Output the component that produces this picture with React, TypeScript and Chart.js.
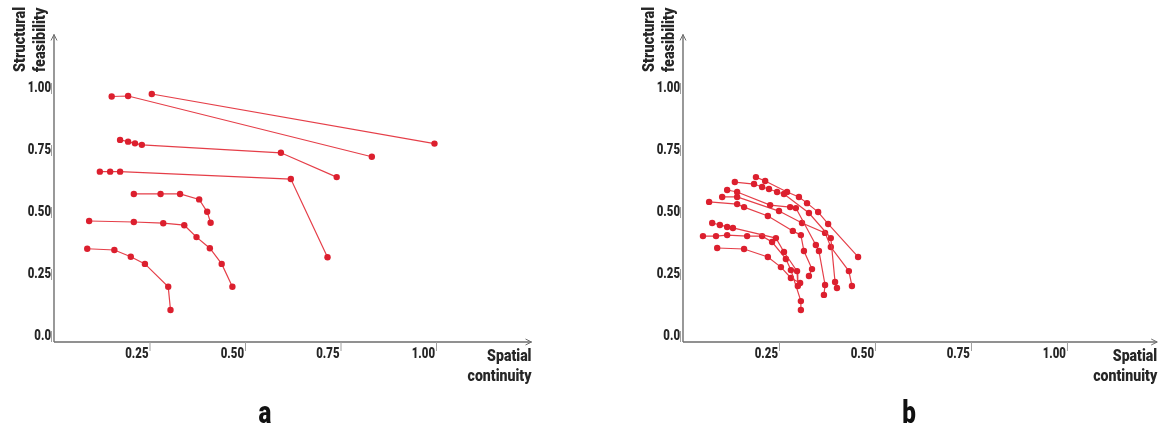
import React, { useEffect, useRef } from "react";
import { Chart, registerables } from "chart.js";

Chart.register(...registerables);

// ---- tick labels & titles ----
const X_TICKS = [0.25, 0.5, 0.75, 1.0];
const X_TICK_LABELS = ["0.25", "0.50", "0.75", "1.00"];
const Y_TICKS = [0, 0.25, 0.5, 0.75, 1.0];
const Y_TICK_LABELS = ["0.0", "0.25", "0.50", "0.75", "1.00"];
const X_TITLE = ["Spatial", "continuity"];
const Y_TITLE = ["Structural", "feasibility"];
const PANEL_LABELS = ["a", "b"];

// ---- panel a series: [spatial continuity, structural feasibility] ----
const a1 = [[0.256, 1.0], [0.996, 0.8]];
const a2 = [[0.151, 0.99], [0.194, 0.992], [0.832, 0.747]];
const a3 = [[0.173, 0.815], [0.194, 0.808], [0.212, 0.801], [0.23, 0.795], [0.594, 0.763], [0.74, 0.665]];
const a4 = [[0.12, 0.687], [0.147, 0.687], [0.173, 0.687], [0.62, 0.657], [0.716, 0.342]];
const a5 = [[0.209, 0.597], [0.279, 0.597], [0.33, 0.597], [0.38, 0.575], [0.401, 0.525], [0.41, 0.481]];
const a6 = [[0.092, 0.488], [0.209, 0.484], [0.286, 0.479], [0.341, 0.471], [0.373, 0.423], [0.408, 0.378], [0.439, 0.315], [0.467, 0.223]];
const a7 = [[0.087, 0.376], [0.158, 0.371], [0.201, 0.344], [0.238, 0.315], [0.299, 0.223], [0.305, 0.129]];

// ---- panel b series ----
const b1 = [[0.19, 0.665], [0.214, 0.649], [0.271, 0.605], [0.302, 0.585], [0.323, 0.56], [0.352, 0.524], [0.378, 0.476], [0.456, 0.343]];
const b2 = [[0.135, 0.645], [0.185, 0.637], [0.206, 0.625], [0.224, 0.617], [0.245, 0.605], [0.263, 0.597], [0.328, 0.52], [0.385, 0.419], [0.396, 0.242], [0.401, 0.218]];
const b3 = [[0.115, 0.613], [0.141, 0.605], [0.227, 0.552], [0.279, 0.544], [0.294, 0.54], [0.346, 0.391], [0.354, 0.367], [0.37, 0.23], [0.367, 0.19]];
const b4 = [[0.102, 0.585], [0.141, 0.585], [0.25, 0.528], [0.31, 0.48], [0.37, 0.44], [0.385, 0.383], [0.432, 0.286], [0.44, 0.226]];
const b5 = [[0.068, 0.565], [0.141, 0.556], [0.159, 0.544], [0.221, 0.508], [0.286, 0.448], [0.307, 0.431], [0.315, 0.367], [0.336, 0.294], [0.328, 0.266]];
const b6 = [[0.076, 0.48], [0.096, 0.472], [0.115, 0.464], [0.13, 0.46], [0.242, 0.419], [0.263, 0.363], [0.297, 0.286], [0.299, 0.226]];
const b7 = [[0.052, 0.427], [0.086, 0.427], [0.115, 0.431], [0.167, 0.427], [0.206, 0.427], [0.232, 0.403], [0.268, 0.335], [0.281, 0.29], [0.307, 0.165], [0.307, 0.129]];
const b8 = [[0.089, 0.379], [0.159, 0.375], [0.221, 0.343], [0.255, 0.302], [0.281, 0.258], [0.305, 0.238]];

const SERIES_A = [a1, a2, a3, a4, a5, a6, a7];
const SERIES_B = [b1, b2, b3, b4, b5, b6, b7, b8];

const FONT = "Roboto, 'DejaVu Sans Condensed', sans-serif";
const LINE_COLOR = "rgba(228, 52, 62, 0.95)";
const POINT_COLOR = "#dc1f2e";
const AXIS_COLOR = "#6e6e6e";
const TEXT_COLOR = "#262626";

// draw horizontally condensed text (the reference uses a condensed face)
function condText(
  ctx: CanvasRenderingContext2D,
  text: string,
  x: number,
  y: number,
  align: CanvasTextAlign,
  sx: number,
  rotate = 0
) {
  ctx.save();
  ctx.translate(x, y);
  if (rotate) ctx.rotate(rotate);
  ctx.scale(sx, 1);
  ctx.textAlign = align;
  ctx.fillText(text, 0, 0);
  ctx.restore();
}

function makeAxesPlugin(panelLabel: string, labelX: number) {
  return {
    id: "customAxes",
    beforeDatasetsDraw(chart: any) {
      const ctx = chart.ctx as CanvasRenderingContext2D;
      const xs = chart.scales.x;
      const ys = chart.scales.y;
      const ox = xs.getPixelForValue(0);
      const oy = ys.getPixelForValue(0);
      const right = chart.chartArea.right;
      const top = chart.chartArea.top;
      ctx.save();
      // axis lines
      ctx.strokeStyle = AXIS_COLOR;
      ctx.lineWidth = 1.4;
      ctx.beginPath();
      ctx.moveTo(ox, oy);
      ctx.lineTo(right, oy);
      ctx.moveTo(ox, oy);
      ctx.lineTo(ox, top);
      ctx.stroke();
      ctx.lineWidth = 1;
      ctx.beginPath();
      ctx.moveTo(right - 6, oy - 3);
      ctx.lineTo(right, oy);
      ctx.lineTo(right - 6, oy + 3);
      ctx.moveTo(ox - 3, top + 6);
      ctx.lineTo(ox, top);
      ctx.lineTo(ox + 3, top + 6);
      ctx.stroke();

      // x ticks
      ctx.fillStyle = TEXT_COLOR;
      ctx.font = `900 15px ${FONT}`;
      ctx.textBaseline = "middle";
      X_TICKS.forEach((t, i) => {
        const px = xs.getPixelForValue(t);
        ctx.strokeStyle = "#a0a0a0";
        ctx.lineWidth = 1;
        ctx.beginPath();
        ctx.moveTo(px + 0.5, oy);
        ctx.lineTo(px + 0.5, oy + 9);
        ctx.stroke();
        condText(ctx, X_TICK_LABELS[i], px - 1, oy + 12, "right", 0.76);
      });
      // y ticks
      Y_TICKS.forEach((t, i) => {
        const py = ys.getPixelForValue(t);
        ctx.strokeStyle = "#a0a0a0";
        ctx.lineWidth = 1;
        ctx.beginPath();
        ctx.moveTo(ox - 2.5, py - 11);
        ctx.lineTo(ox - 2.5, py);
        ctx.stroke();
        condText(ctx, Y_TICK_LABELS[i], ox - 3, py - 5.5, "right", 0.76);
      });

      // x title
      ctx.font = `900 17px ${FONT}`;
      ctx.textBaseline = "alphabetic";
      condText(ctx, X_TITLE[0], right, oy + 19, "right", 0.83);
      condText(ctx, X_TITLE[1], right, oy + 39, "right", 0.83);

      // y title (rotated)
      condText(ctx, Y_TITLE[0], ox - 29, 72, "left", 0.85, -Math.PI / 2);
      condText(ctx, Y_TITLE[1], ox - 9, 72, "left", 0.85, -Math.PI / 2);

      // panel label
      ctx.font = `900 31px ${FONT}`;
      ctx.fillStyle = "#111111";
      condText(ctx, panelLabel, labelX, 423, "center", 0.78);
      ctx.restore();
    },
  };
}

function buildDatasets(series: number[][][]) {
  return series.map((s) => ({
    data: s.map(([x, y]) => ({ x, y })),
    showLine: true,
    borderColor: LINE_COLOR,
    borderWidth: 1.2,
    pointRadius: 3.2,
    pointBackgroundColor: POINT_COLOR,
    pointBorderColor: POINT_COLOR,
    pointBorderWidth: 0,
    clip: false as any,
  }));
}

function Panel(props: {
  series: number[][][];
  padding: { left: number; right: number; top: number; bottom: number };
  xMax: number;
  yMax: number;
  label: string;
  labelX: number;
}) {
  const ref = useRef<HTMLCanvasElement | null>(null);
  useEffect(() => {
    if (!ref.current) return;
    const chart = new Chart(ref.current, {
      type: "scatter",
      data: { datasets: buildDatasets(props.series) as any },
      options: {
        responsive: false,
        animation: false,
        devicePixelRatio: 1,
        layout: { padding: props.padding },
        plugins: { legend: { display: false }, tooltip: { enabled: false } },
        scales: {
          x: { type: "linear", min: 0, max: props.xMax, display: false },
          y: { type: "linear", min: 0, max: props.yMax, display: false },
        },
      },
      plugins: [makeAxesPlugin(props.label, props.labelX)],
    });
    return () => chart.destroy();
  }, []);
  return <canvas ref={ref} width={582} height={429} style={{ display: "block" }} />;
}

export default function App() {
  return (
    <div style={{ position: "absolute", left: 0, top: 0, width: 1164, height: 429, display: "flex", background: "#ffffff" }}>
      <Panel
        series={SERIES_A}
        padding={{ left: 54, right: 50.5, top: 34.5, bottom: 87 }}
        xMax={1.25}
        yMax={1.24}
        label={PANEL_LABELS[0]}
        labelX={265}
      />
      <Panel
        series={SERIES_B}
        padding={{ left: 101, right: 6.8, top: 34.5, bottom: 87 }}
        xMax={1.235}
        yMax={1.24}
        label={PANEL_LABELS[1]}
        labelX={327}
      />
    </div>
  );
}
